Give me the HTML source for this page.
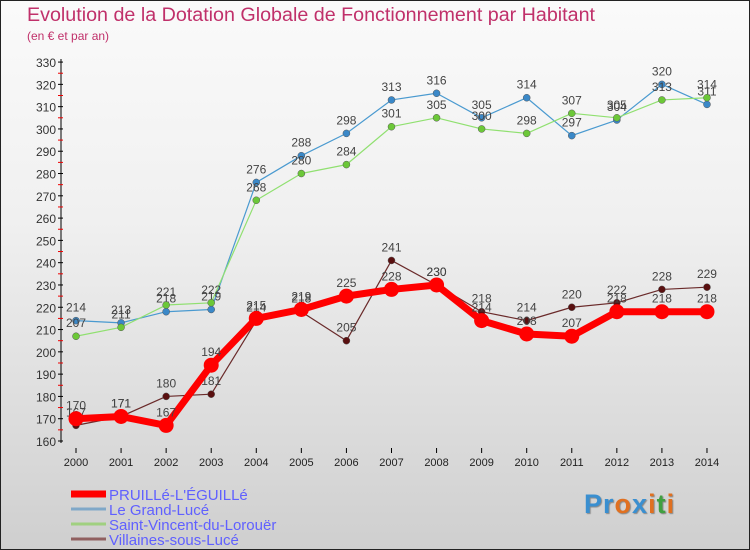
<!DOCTYPE html>
<html><head><meta charset="utf-8"><style>
body{margin:0}
#c{position:relative;width:748px;height:548px;border:1px solid #222;background:linear-gradient(#fafafa,#f0f0f0 40%,#cfcfcf);font-family:"Liberation Sans",sans-serif;overflow:hidden}
.t{position:absolute;left:26px;top:3px;font-size:19.7px;color:#c0306a;white-space:nowrap}
.s{position:absolute;left:26px;top:28px;font-size:12px;color:#c0306a}
svg{position:absolute;left:0;top:0}
</style></head><body>
<div id="c">
<div class="t">Evolution de la Dotation Globale de Fonctionnement par Habitant</div>
<div class="s">(en € et par an)</div>
<svg id="g" width="750" height="550"></svg>
<div style="position:absolute;left:583px;top:488px;font-size:27px;font-weight:bold;letter-spacing:1px;text-shadow:1px 1px 1px #888"><span style="color:#3a8fd0">Pr</span><span style="color:#e07020">o</span><span style="color:#3a8fd0">x</span><span style="color:#e07020">i</span><span style="color:#40a040">t</span><span style="color:#e07020">i</span></div>
</div>
<script>
const years=[2000,2001,2002,2003,2004,2005,2006,2007,2008,2009,2010,2011,2012,2013,2014];
const pruille=[170,171,167,194,215,219,225,228,230,214,208,207,218,218,218];
const grandLuce=[214,213,218,219,276,288,298,313,316,305,314,297,304,320,311];
const stVincent=[207,211,221,222,268,280,284,301,305,300,298,307,305,313,314];
const villaines=[167,171,180,181,214,218,205,241,230,218,214,220,222,228,229];
const yTicks=[160,170,180,190,200,210,220,230,240,250,260,270,280,290,300,310,320,330];
const names=["PRUILLé-L'ÉGUILLé","Le Grand-Lucé","Saint-Vincent-du-Lorouër","Villaines-sous-Lucé"];
const NS="http://www.w3.org/2000/svg",g=document.getElementById('g');
const X=i=>75+i*45.07, Y=v=>440-(v-160)*2.229;
function el(t,a,p){const e=document.createElementNS(NS,t);for(const k in a)e.setAttribute(k,a[k]);(p||g).appendChild(e);return e;}
const ax=el('line',{x1:60,y1:58,x2:60,y2:442,stroke:'#000'});


yTicks.forEach((v,j)=>{el('line',{x1:57,x2:62,y1:Y(v),y2:Y(v),stroke:'#000'});
if(j<yTicks.length-1)el('line',{x1:57,x2:62,y1:Y(v+5),y2:Y(v+5),stroke:'#e00'});
const t=el('text',{x:55,y:Y(v)+5,'text-anchor':'end','font-size':12,fill:'#333'});t.textContent=v;

});
years.forEach((y,i)=>{el('line',{x1:X(i),x2:X(i),y1:447,y2:452,stroke:'#000'});
const t=el('text',{x:X(i),y:465,'text-anchor':'middle','font-size':11,fill:'#222'});t.textContent=y;

});
const series=[[grandLuce,'#4a9ad0',1.2,3.5,'#3a88c8'],[stVincent,'#90e070',1.2,3.5,'#6cc838'],[villaines,'#6a2a2a',1.2,3.5,'#5a1010'],[pruille,'#f00',7,7.5,'#f00']];
const sn=['series-grand-luce','series-saint-vincent','series-villaines','series-pruille'];
series.forEach((s,k)=>{const grp=el('g',{});


el('polyline',{points:s[0].map((v,i)=>X(i)+','+Y(v)).join(' '),fill:'none',stroke:s[1],'stroke-width':s[2],'stroke-linejoin':'round'},grp);
s[0].forEach((v,i)=>{const c=el('circle',{cx:X(i),cy:Y(v),r:s[3],fill:s[4],stroke:'#555','stroke-width':k==3?0:0.5},grp);


const t=el('text',{x:X(i),y:Y(v)-9,'text-anchor':'middle','font-size':12,fill:'#444'},grp);t.textContent=v;});});
const lc=['#f00','#80a8c8','#a0d080','#906060'],lw=[7,3,3,3];
names.forEach((n,i)=>{const y=493+i*15;
el('line',{x1:70,x2:105,y1:y,y2:y,stroke:lc[i],'stroke-width':lw[i]});
const t=el('text',{x:108,y:y+6,'font-size':15,fill:'#6060ff'});t.textContent=n;

});
</script>
</body></html>
